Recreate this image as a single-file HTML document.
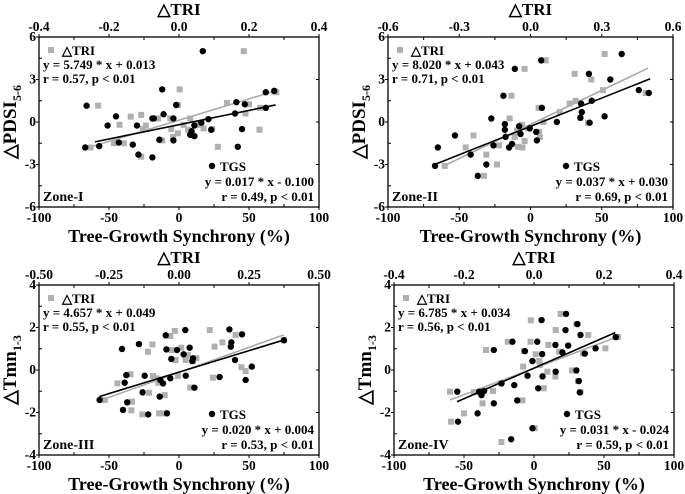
<!DOCTYPE html>
<html><head><meta charset="utf-8"><style>
html,body{margin:0;padding:0;background:#fff;}
svg{display:block;font-family:"Liberation Serif",serif;font-weight:bold;}
</style></head><body>
<svg id="chart" width="685" height="494" viewBox="0 0 685 494"></svg>
<script>
// Panel 1 (Zone-I)
const p1TgsX=[-67,-66,-57,-51,-45,-43,-33,-30,-29,-19,-19,-18,-14,-12,-11,-4,-4,-2,8,9,9,11,11,16,17,21,23,40,41,42,47,45,62,62,68];
const p1TgsY=[-1.8,1.15,-1.7,-0.25,0.4,-1.45,-1.6,-0.25,-2.3,-2.5,0.25,0.25,-1.25,2.3,0.55,-1.3,0.25,1.2,-0.9,-0.65,-0.9,-1.0,-0.25,-0.05,5.0,0.2,-0.55,0.6,1.4,-1.75,1.25,-0.5,2.1,1.0,2.2];
const p1TriX=[-0.253,-0.231,-0.186,-0.138,-0.17,-0.158,-0.108,-0.108,-0.095,-0.103,-0.06,-0.048,-0.025,-0.022,-0.017,-0.003,0.002,-0.003,0.013,0.026,0.032,0.054,0.07,0.095,0.111,0.137,0.185,0.19,0.2,0.23,0.232,0.273,0.278];
const p1TriY=[-1.8,1.15,-1.5,0.38,-0.2,-1.5,0.5,-2.45,-0.25,-0.5,0.25,-1.3,0.25,-0.5,-1.05,-0.8,2.3,1.2,-0.2,-0.55,0.25,-0.2,-0.45,-0.5,-1.75,1.35,5.0,0.6,1.25,-0.55,1.0,2.15,2.1];
// Panel 2 (Zone-II)
const p2TgsX=[-67,-65,-53,-42,-37,-31,-27.5,-26,-19,-18,-18,-17.5,-15,-13,-11,-8,-7,-0.5,4,4.5,7.5,8,18.5,35,35.5,36,41,41.5,43,52,56,64,76,83];
const p2TgsY=[-3.1,-1.8,-0.95,-2.3,-3.8,-3.0,0.25,-1.65,1.85,-0.15,-0.55,-1.05,-1.8,-1.55,3.75,-0.3,-0.85,-0.45,-0.7,-1.3,4.35,1.0,0,0.3,1.3,0.7,3.4,-0.05,1.5,0.4,3.0,4.8,2.25,2.05];
const p2TriX=[-0.361,-0.273,-0.24,-0.186,-0.196,-0.141,-0.133,-0.088,-0.08,-0.067,-0.057,-0.053,-0.036,-0.034,-0.025,-0.025,-0.009,0.034,0.036,0.039,0.055,0.064,0.123,0.165,0.186,0.19,0.21,0.242,0.256,0.305,0.312,0.485];
const p2TriY=[-3.1,-1.8,-0.95,-2.3,-3.8,-3.0,-1.65,0.25,1.85,-1.05,-0.6,-1.75,-0.2,-1.8,3.75,-1.35,-0.45,1.0,-0.7,-1.05,0,4.35,0.7,1.3,3.4,1.5,0.3,-0.05,3.0,2.25,4.8,2.05];
// Panel 3 (Zone-III)
const p3TgsX=[-56.7,-40.7,-40,-38.8,-37.6,-37,-28.6,-26,-24.5,-22,-13.8,-13.3,-11.4,-9.5,-9,-8.6,-6.2,-5.5,-1.4,3.3,4.5,4.8,7.6,9.5,10,11,29,36,37,37.4,40,45,47.6,52,75];
const p3TgsY=[-1.41,0.99,-1.88,-0.6,-0.24,-1.52,1.22,-1.05,-0.27,-2.09,-1.25,-0.47,-0.63,1.63,0.97,-2.04,-0.39,0.52,0.94,0.74,1.88,-0.27,1.05,0.42,0.55,-0.83,-0.33,1.91,1.1,1.3,0.47,1.68,-0.47,0.16,1.4];
const p3TriX=[-0.265,-0.22,-0.173,-0.17,-0.168,-0.131,-0.111,-0.107,-0.095,-0.093,-0.081,-0.074,-0.071,-0.057,-0.051,-0.031,-0.027,-0.015,-0.012,-0.004,0.008,0.024,0.032,0.04,0.05,0.062,0.11,0.121,0.127,0.155,0.202,0.223,0.238,0.374];
const p3TriY=[-1.41,-0.63,-0.2,-1.9,-1.49,-2.09,0.86,-1.07,1.2,-0.28,-0.39,-0.6,-2.04,-2.04,-1.18,1.6,0.94,1.84,0.47,-0.28,1.05,0.47,0.7,-0.83,0.42,0.55,1.88,-0.36,1.1,1.3,1.65,0.13,-0.05,1.4];
// Panel 4 (Zone-IV)
const p4TgsX=[-54.8,-54.3,-40.3,-39.1,-37.5,-35.6,-28.7,-28.7,-23.2,-16.3,-15.4,-14.1,-12,-6.5,-4.6,-1.1,-1.1,2.3,3,5.4,5.8,6.1,15.3,15.5,20.3,22.5,22.9,24.4,30.3,31,32,32.7,33.2,36.3,44,58.4];
const p4TgsY=[-1.02,-2.43,-2.04,-1.02,-1.18,-0.99,0.94,-1.57,-0.63,-3.26,1.33,-0.71,-1.43,0.89,-0.27,-2.74,0.42,1.33,-0.86,2.35,0.75,-0.3,1.18,-0.08,0.83,1.88,2.64,1.15,-0.02,2.16,-0.52,-1.05,1.65,0.77,1.02,1.55];
const p4TriX=[-0.24,-0.237,-0.2,-0.172,-0.164,-0.147,-0.137,-0.117,-0.094,-0.093,-0.075,-0.033,-0.031,-0.029,-0.009,-0.01,0.002,0.005,0.015,0.017,0.028,0.038,0.041,0.061,0.062,0.072,0.076,0.109,0.121,0.126,0.133,0.14,0.155,0.204,0.24];
const p4TriY=[-1.02,-2.43,-2.04,-1.04,-1.04,-1.57,0.94,-0.99,-0.63,-3.39,1.33,-1.43,0.16,0.89,2.34,1.33,-2.74,0.74,0.42,0.24,-0.86,-0.08,1.18,-0.31,1.88,0.86,2.64,-0.02,2.16,-0.52,-1.05,0.78,1.65,1.02,1.55];

// Fitted lines as drawn (slope, intercept, x-start, x-end), per panel
const tgsSlope=[0.0202,0.040,0.0202,0.0288];
const tgsIntercept=[-0.19,-0.31,-0.10,0.09];
const tgsLineStart=[-60,-67,-57,-55];
const tgsLineEnd=[69,84,75,58];
const triSlope=[7.5,8.02,4.71,6.21];
const triIntercept=[0.13,-0.17,-0.11,0.08];
const triLineStart=[-0.267,-0.368,-0.265,-0.24];
const triLineEnd=[0.278,0.495,0.374,0.24];

const bottomTicks=[-100,-50,0,50,100];
const p1TopTicks=["-0.4","-0.2","0.0","0.2","0.4"];
const p2TopTicks=["-0.6","-0.3","0.0","0.3","0.6"];
const p3TopTicks=["-0.50","-0.25","0.00","0.25","0.50"];
const p4TopTicks=["-0.4","-0.2","0.0","0.2","0.4"];
const pdsiTicks=[-6,-3,0,3,6];
const tmnTicks=[-4,-2,0,2,4];

const NS="http://www.w3.org/2000/svg";
const svg=document.getElementById('chart');
function mk(tag,attrs,parent,txt){const e=document.createElementNS(NS,tag);for(const k in attrs)e.setAttribute(k,attrs[k]);if(txt!==undefined)e.textContent=txt;(parent||svg).appendChild(e);return e;}

const panels=[
 {id:'zone-i',L:39,R:319,T:37,B:207,top:p1TopTicks,ticks:pdsiTicks,yl:'PDSI',ys:'5-6',zone:'Zone-I',tgsX:p1TgsX,tgsY:p1TgsY,triX:p1TriX,triY:p1TriY,
  e1:'y = 5.749 * x + 0.013',r1:'r = 0.57, p < 0.01',e2:'y = 0.017 * x - 0.100',r2:'r = 0.49, p < 0.01'},
 {id:'zone-ii',L:388,R:673,T:37,B:207,top:p2TopTicks,ticks:pdsiTicks,yl:'PDSI',ys:'5-6',zone:'Zone-II',tgsX:p2TgsX,tgsY:p2TgsY,triX:p2TriX,triY:p2TriY,
  e1:'y = 8.020 * x + 0.043',r1:'r = 0.71, p < 0.01',e2:'y = 0.037 * x + 0.030',r2:'r = 0.69, p < 0.01'},
 {id:'zone-iii',L:39,R:319,T:285,B:455,top:p3TopTicks,ticks:tmnTicks,yl:'Tmn',ys:'1-3',zone:'Zone-III',tgsX:p3TgsX,tgsY:p3TgsY,triX:p3TriX,triY:p3TriY,
  e1:'y = 4.657 * x + 0.049',r1:'r = 0.55, p < 0.01',e2:'y = 0.020 * x + 0.004',r2:'r = 0.53, p < 0.01'},
 {id:'zone-iv',L:394,R:674,T:285,B:455,top:p4TopTicks,ticks:tmnTicks,yl:'Tmn',ys:'1-3',zone:'Zone-IV',tgsX:p4TgsX,tgsY:p4TgsY,triX:p4TriX,triY:p4TriY,
  e1:'y = 6.785 * x + 0.034',r1:'r = 0.56, p < 0.01',e2:'y = 0.031 * x - 0.024',r2:'r = 0.59, p < 0.01'}
];

panels.forEach((p,pi)=>{
 const g=mk('g',{});
 
 
 const tMin=parseFloat(p.top[0]),tMax=parseFloat(p.top[p.top.length-1]);
 const yMin=p.ticks[0],yMax=p.ticks[p.ticks.length-1];
 const sx=v=>p.L+(v+100)/200*(p.R-p.L);
 const tx=v=>p.L+(v-tMin)/(tMax-tMin)*(p.R-p.L);
 const sy=v=>p.B-(v-yMin)/(yMax-yMin)*(p.B-p.T);
 const frame=mk('rect',{x:p.L,y:p.T,width:p.R-p.L,height:p.B-p.T,fill:'none',stroke:'#000','stroke-width':1.3},g);
 
 
 bottomTicks.forEach((v,i)=>{
  const x=sx(v);
  mk('line',{x1:x,y1:p.B,x2:x,y2:p.B+3,stroke:'#000'},g);
  if(i<bottomTicks.length-1){const xm=sx(v+25);mk('line',{x1:xm,y1:p.B,x2:xm,y2:p.B-3,stroke:'#000'},g);}
  const t=mk('text',{x:x,y:p.B+15,'font-size':13.5,'text-anchor':'middle'},g,String(v));
  
  
 });
 p.top.forEach((s,i)=>{
  const x=tx(parseFloat(s));
  mk('line',{x1:x,y1:p.T,x2:x,y2:p.T-3,stroke:'#000'},g);
  if(i<p.top.length-1){const xm=(x+tx(parseFloat(p.top[i+1])))/2;mk('line',{x1:xm,y1:p.T,x2:xm,y2:p.T+3,stroke:'#000'},g);}
  const t=mk('text',{x:x,y:p.T-6,'font-size':13.5,'text-anchor':'middle'},g,s);
  
  
 });
 p.ticks.forEach((v,i)=>{
  const y=sy(v);
  mk('line',{x1:p.L,y1:y,x2:p.L-3,y2:y,stroke:'#000'},g);
  mk('line',{x1:p.R,y1:y,x2:p.R-3,y2:y,stroke:'#000'},g);
  if(i<p.ticks.length-1){const ym=(y+sy(p.ticks[i+1]))/2;mk('line',{x1:p.L,y1:ym,x2:p.L+3,y2:ym,stroke:'#000'},g);}
  const t=mk('text',{x:p.L-3,y:y+4,'font-size':13.5,'text-anchor':'end'},g,String(v));
  
  
 });
 const cx=(p.L+p.R)/2;
 const tt=mk('text',{x:cx,y:p.T-22,'font-size':17,'text-anchor':'middle'},g,'\u25B3TRI');
 
 
 const xt=mk('text',{x:cx,y:p.B+35,'font-size':18,'text-anchor':'middle'},g,'Tree-Growth Synchrony (%)');
 
 
 const ymid=(p.T+p.B)/2;
 const yt=mk('text',{x:0,y:0,'font-size':19,'text-anchor':'middle',transform:`translate(${p.L-23},${ymid}) rotate(-90)`},g);
 
 
 mk('tspan',{},yt,'\u25B3'+p.yl);
 mk('tspan',{'font-size':12,dy:5},yt,p.ys);
 const x1a=triLineStart[pi],x1b=triLineEnd[pi];
 const gl=mk('line',{x1:tx(x1a),y1:sy(triIntercept[pi]+triSlope[pi]*x1a),x2:tx(x1b),y2:sy(triIntercept[pi]+triSlope[pi]*x1b),stroke:'#aaa','stroke-width':1.6},g);
 
 
 p.triX.forEach((v,i)=>{
  const r=mk('rect',{x:tx(v)-3,y:sy(p.triY[i])-3,width:6,height:6,fill:'#b0b0b0'},g);
  
  
 });
 p.tgsX.forEach((v,i)=>{
  const c=mk('circle',{cx:sx(v),cy:sy(p.tgsY[i]),r:3.2,fill:'#000'},g);
  
  
 });
 const x2a=tgsLineStart[pi],x2b=tgsLineEnd[pi];
 const bl=mk('line',{x1:sx(x2a),y1:sy(tgsIntercept[pi]+tgsSlope[pi]*x2a),x2:sx(x2b),y2:sy(tgsIntercept[pi]+tgsSlope[pi]*x2b),stroke:'#000','stroke-width':1.6},g);
 
 
 const lx=p.L+4;
 const ls=mk('rect',{x:lx+5,y:p.T+10,width:6,height:6,fill:'#b0b0b0'},g);
 
 
 const lt=mk('text',{x:lx+19,y:p.T+18,'font-size':13},g,'\u25B3TRI');
 
 
 const e1=mk('text',{x:lx,y:p.T+32,'font-size':13},g,p.e1);
 
 
 const r1=mk('text',{x:lx,y:p.T+46,'font-size':13},g,p.r1);
 
 
 const rx=p.R-5;
 const ld=mk('circle',{cx:rx-102,cy:p.T+129,r:3.2,fill:'#000'},g);
 
 
 const l2=mk('text',{x:rx-94,y:p.T+134,'font-size':13},g,'TGS');
 
 
 const e2=mk('text',{x:rx,y:p.T+149,'font-size':13,'text-anchor':'end'},g,p.e2);
 
 
 const r2=mk('text',{x:rx,y:p.T+164,'font-size':13,'text-anchor':'end'},g,p.r2);
 
 
 const z=mk('text',{x:lx,y:p.B-6,'font-size':14},g,p.zone);
 
 
});
</script>
</body></html>
